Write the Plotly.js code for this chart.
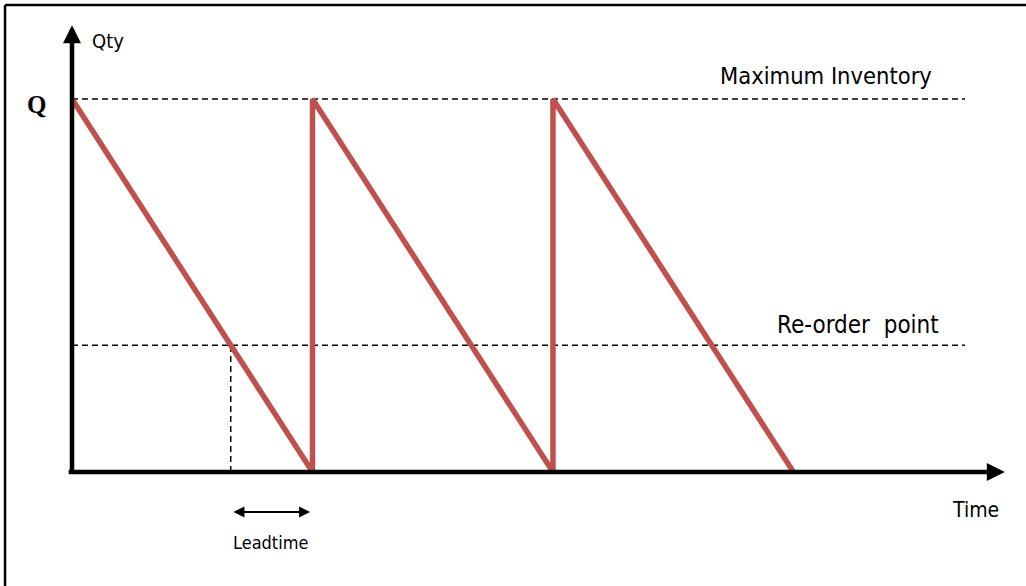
<!DOCTYPE html>
<html>
<head>
<meta charset="utf-8">
<script src="https://cdn.plot.ly/plotly-3.0.1.min.js"></script>
<style>
  html, body { margin: 0; padding: 0; background: #ffffff; }
  #chart { width: 1026px; height: 586px; }
</style>
</head>
<body>
<div id="chart"></div>
<script>
// ---- data ----
const cycleTime = [0, 1, 1, 2, 2, 3];           // time (in order cycles)
const inventoryQty = [100, 0, 100, 0, 100, 0];  // stock on hand
const maxInventory = 100;                       // Q
const reorderPoint = 34;                        // re-order level
const leadtime = 0.34;                          // fraction of a cycle
const refLineEnd = 3.713;                       // where dashed guide lines end
const labels = {
  q: "Q", qty: "Qty", time: "Time", lead: "Leadtime",
  max: "Maximum Inventory", reorder: "Re-order  point"
};

const RED = "#C0504D";
const TXT = "DejaVu Sans Condensed, DejaVu Sans, sans-serif";

const traces = [{
  x: cycleTime, y: inventoryQty,
  type: "scatter", mode: "lines",
  line: { color: RED, width: 5.5 },
  hoverinfo: "skip"
}];

const reorderTime = 1 - leadtime;

const shapes = [
  // frame (top & left edges)
  { type: "line", xref: "paper", yref: "paper", x0: 0.0049, x1: 1, y0: 0.9915, y1: 0.9915,
    line: { color: "#000", width: 2.5 } },
  { type: "line", xref: "paper", yref: "paper", x0: 0.0049, x1: 0.0049, y0: 0, y1: 0.9915,
    line: { color: "#000", width: 2.5 } },
  // maximum inventory
  { type: "line", xref: "x", yref: "y", x0: 0, x1: refLineEnd, y0: maxInventory, y1: maxInventory,
    layer: "below", line: { color: "#000", width: 1.5, dash: "6px,4px" } },
  // re-order point
  { type: "line", xref: "x", yref: "y", x0: 0, x1: refLineEnd, y0: reorderPoint, y1: reorderPoint,
    layer: "below", line: { color: "#000", width: 1.5, dash: "6px,4px" } },
  // leadtime drop
  { type: "line", xref: "x", yref: "y", x0: reorderTime, x1: reorderTime, y0: 0, y1: reorderPoint,
    layer: "below", line: { color: "#000", width: 1.5, dash: "6px,4px" } }
];

const annotations = [
  // y axis arrow
  { x: 0, y: 119.8, ax: 0, ay: 0, axref: "x", ayref: "y", xref: "x", yref: "y",
    showarrow: true, arrowhead: 2, arrowwidth: 4.5, arrowsize: 0.8, arrowcolor: "#000", text: "" },
  // x axis arrow
  { x: 3.879, y: 0, ax: -0.02, ay: 0, axref: "x", ayref: "y", xref: "x", yref: "y",
    showarrow: true, arrowhead: 2, arrowwidth: 4.5, arrowsize: 0.8, arrowcolor: "#000", text: "" },
  // leadtime arrow
  { x: 0.99, y: -10.7, ax: reorderTime + 0.005, ay: -10.7, axref: "x", ayref: "y", xref: "x", yref: "y",
    showarrow: true, arrowhead: 2, arrowside: "end+start", arrowwidth: 2, arrowsize: 1.1,
    arrowcolor: "#000", text: "" },
  // text labels
  { x: -0.148, y: maxInventory, yshift: -5, xref: "x", yref: "y", showarrow: false, text: labels.q,
    font: { family: "Liberation Serif, serif", size: 25, color: "#000", weight: "bold" } },
  { x: 0.075, y: 115.5, xref: "x", yref: "y", xanchor: "left", showarrow: false, text: labels.qty,
    font: { family: TXT, size: 20, color: "#000" } },
  { x: 3.137, y: 106.3, xref: "x", yref: "y", showarrow: false, text: labels.max,
    font: { family: TXT, size: 23.5, color: "#000" } },
  { x: 3.270, y: 39.4, xref: "x", yref: "y", showarrow: false, text: labels.reorder,
    font: { family: TXT, size: 24, color: "#000" } },
  { x: 3.759, y: -10.2, xref: "x", yref: "y", showarrow: false, text: labels.time,
    font: { family: TXT, size: 21, color: "#000" } },
  { x: 0.827, y: -19, xref: "x", yref: "y", showarrow: false, text: labels.lead,
    font: { family: TXT, size: 18, color: "#000" } }
];

const layout = {
  width: 1026, height: 586,
  margin: { l: 0, r: 0, t: 0, b: 0, pad: 0 },
  paper_bgcolor: "#ffffff", plot_bgcolor: "#ffffff",
  showlegend: false,
  xaxis: { range: [-0.2994, 3.967], visible: false, fixedrange: true },
  yaxis: { range: [-30.56, 126.54], visible: false, fixedrange: true },
  shapes: shapes,
  annotations: annotations
};

Plotly.newPlot("chart", traces, layout, { staticPlot: true, displayModeBar: false });
</script>
</body>
</html>
